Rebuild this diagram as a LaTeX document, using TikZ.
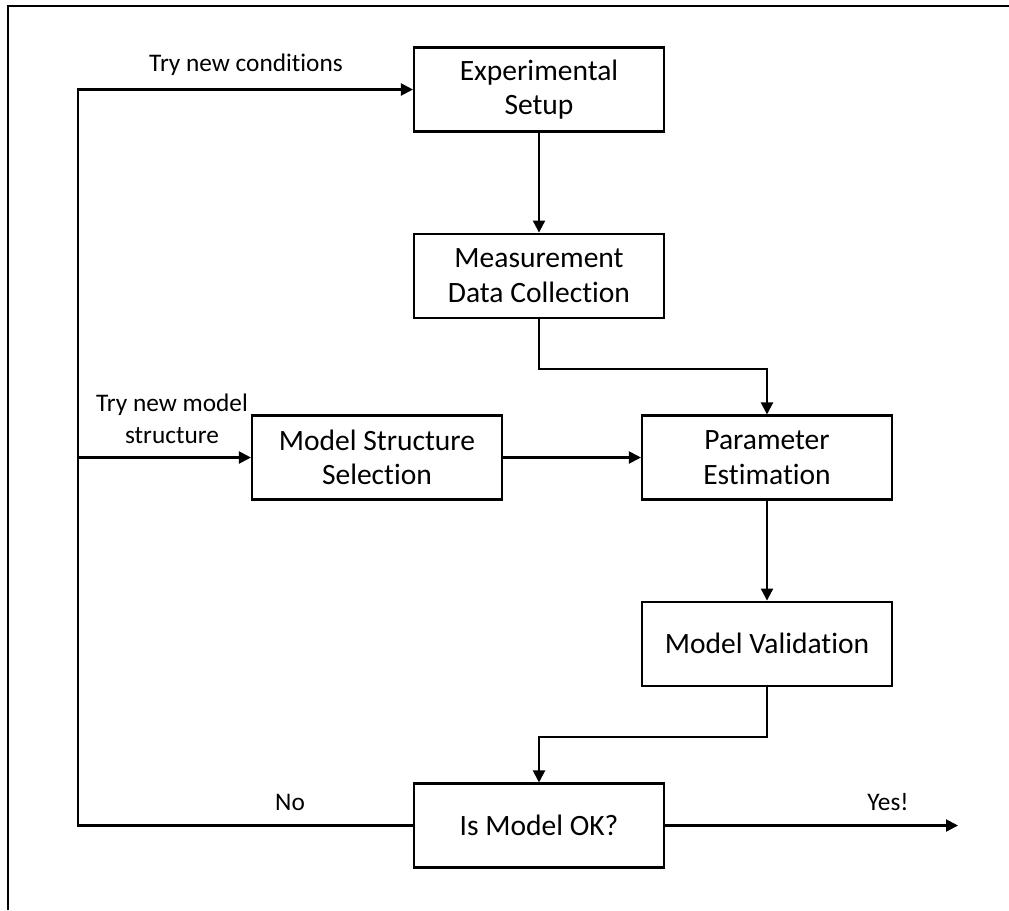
\documentclass[tikz,border=0pt]{standalone}
\usepackage{fontspec}
\setmainfont[Ligatures=NoCommon]{Carlito}
\usepackage{tikz}
\usetikzlibrary{
  arrows.meta,
  positioning,
  calc,
}

\begin{document}
\begin{tikzpicture}[
  stepbox/.style={draw, line width=1.2pt, minimum width=5cm, minimum height=1.68cm,
    inner sep=0pt, align=center, font=\fontsize{16.8}{19.7}\selectfont},
  flow/.style={line width=1.2pt, -{Triangle[length=0.24cm, width=0.24cm]}},
  wire/.style={line width=1.2pt},
  note/.style={align=center, font=\fontsize{14.4}{18}\selectfont},
]
  \useasboundingbox (0,0) rectangle (20.18,-18.2);
  % frame
  \draw[wire] (0.16,-18.2) -- (0.16,-0.12) -- (20.18,-0.12);

  \node[stepbox] (setup) at (10.78,-1.79) {Experimental\\Setup};
  \node[stepbox, below=2cm of setup] (meas) {Measurement\\Data Collection};
  \node[stepbox] (param) at (15.34,-9.15) {Parameter\\Estimation};
  \node[stepbox] (mss) at (7.54,-9.15) {Model Structure\\Selection};
  \node[stepbox, below=2cm of param] (valid) {Model Validation};
  \node[stepbox] (isok) at (10.78,-16.51) {Is Model OK?};

  \coordinate (loop) at (1.56,-9.15);
  \coordinate (done) at (19.16,-16.51);

  \draw[flow] (setup) -- (meas);
  \draw[flow] (meas.south) -- ++(0,-1) -| (param.north);
  \draw[flow] (mss) -- (param);
  \draw[flow] (param) -- (valid);
  \draw[flow] (valid.south) -- ++(0,-1) -| (isok.north);
  \draw[flow] (isok) -- (done);
  \draw[flow] (isok.west) -- (loop |- isok) -- (loop |- setup) -- (setup.west);
  \draw[flow] (loop) -- (mss.west);

  \node[note] (lcond) at (4.92,-1.3) {Try new conditions};
  \node[note] (lstruct) at (3.44,-8.38) {Try new model\\structure};
  \node[note] (lno) at (5.8,-16.04) {No};
  \node[note] (lyes) at (17.76,-16.04) {Yes!};
\end{tikzpicture}
\end{document}
